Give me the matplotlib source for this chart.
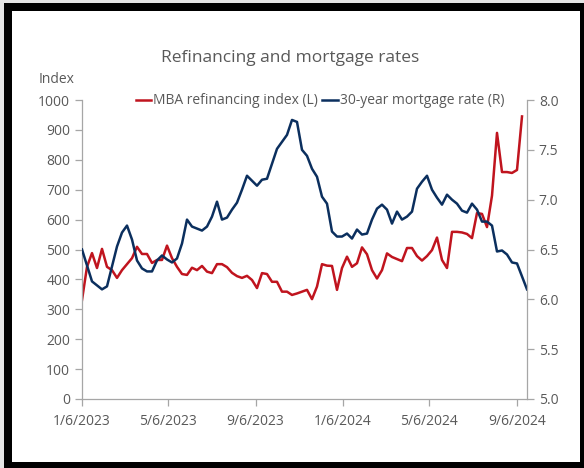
import pandas as pd
import matplotlib
matplotlib.use("Agg")
import matplotlib.pyplot as plt
from matplotlib.patches import Rectangle

plt.rcParams['font.family'] = ['Open Sans', 'DejaVu Sans']

# weekly data, starting friday 1/6/2023
start = '2023-01-06'

refi_index = [331, 442, 488, 438, 502, 442, 431, 405, 431, 451,
              471, 509, 485, 485, 455, 465, 465, 513, 471, 442,
              418, 415, 439, 431, 445, 426, 421, 451, 451, 441,
              422, 411, 405, 412, 398, 371, 421, 418, 392, 392,
              359, 359, 348, 353, 359, 365, 334, 376, 451, 446,
              445, 365, 438, 476, 442, 454, 507, 484, 431, 403,
              431, 487, 475, 468, 461, 505, 505, 478, 463, 478,
              498, 540, 465, 438, 559, 559, 557, 552, 538, 622,
              619, 575, 680, 890, 759, 759, 756, 766, 945]

mortgage_rate = [6.50, 6.34, 6.18, 6.14, 6.10, 6.13, 6.33, 6.53, 6.67, 6.74,
                 6.60, 6.39, 6.31, 6.28, 6.28, 6.39, 6.44, 6.40, 6.37, 6.41,
                 6.56, 6.80, 6.73, 6.71, 6.69, 6.73, 6.83, 6.98, 6.80, 6.82,
                 6.90, 6.97, 7.10, 7.24, 7.19, 7.14, 7.20, 7.21, 7.36, 7.51,
                 7.58, 7.65, 7.80, 7.78, 7.50, 7.44, 7.31, 7.23, 7.03, 6.96,
                 6.68, 6.63, 6.63, 6.66, 6.61, 6.70, 6.65, 6.66, 6.80, 6.91,
                 6.95, 6.90, 6.76, 6.88, 6.80, 6.83, 6.88, 7.11, 7.18, 7.24,
                 7.10, 7.02, 6.95, 7.05, 7.00, 6.96, 6.89, 6.87, 6.96, 6.90,
                 6.78, 6.78, 6.74, 6.48, 6.49, 6.45, 6.37, 6.36, 6.23, 6.10]

refi_dates = pd.date_range(start, periods=len(refi_index), freq='7D')
rate_dates = pd.date_range(start, periods=len(mortgage_rate), freq='7D')

tick_dates = pd.to_datetime(['2023-01-06', '2023-05-06', '2023-09-06',
                             '2024-01-06', '2024-05-06', '2024-09-06'])
tick_labels = ['1/6/2023', '5/6/2023', '9/6/2023', '1/6/2024', '5/6/2024', '9/6/2024']

red = '#C0141E'
navy = '#0B2F5E'
gray = '#595959'
spine_gray = '#A6A6A6'

W, H = 584, 468
fig = plt.figure(figsize=(W / 100, H / 100), dpi=100)
fig.patch.set_facecolor('#E4E4E4')

# black frame round the chart
fig.add_artist(Rectangle((4 / W, 0), 580 / W, 465 / H, transform=fig.transFigure,
                         facecolor='black', edgecolor='none', zorder=-2))
fig.add_artist(Rectangle((12 / W, 6 / H), 568 / W, 451 / H, transform=fig.transFigure,
                         facecolor='white', edgecolor='none', zorder=-1))

ax = fig.add_axes([82 / W, 1 - 399 / H, 445 / W, 299 / H])
ax.set_facecolor('none')
ax2 = ax.twinx()

l1, = ax.plot(refi_dates, refi_index, color=red, lw=1.8, label='MBA refinancing index (L)')
l2, = ax2.plot(rate_dates, mortgage_rate, color=navy, lw=1.8, label='30-year mortgage rate (R)')

ax.set_ylim(0, 1000)
ax.set_yticks(range(0, 1001, 100))
ax2.set_ylim(5.0, 8.0)
ax2.set_yticks([5.0, 5.5, 6.0, 6.5, 7.0, 7.5, 8.0])
ax2.set_yticklabels(['%.1f' % v for v in [5.0, 5.5, 6.0, 6.5, 7.0, 7.5, 8.0]])

ax.set_xlim(rate_dates[0], rate_dates[-1])
ax.set_xticks(tick_dates)
ax.set_xticklabels(tick_labels)

for a in (ax, ax2):
    a.spines['top'].set_visible(False)
    for s in ('left', 'right', 'bottom'):
        a.spines[s].set_color(spine_gray)
        a.spines[s].set_linewidth(0.9)
    a.tick_params(colors=spine_gray, labelcolor=gray, labelsize=10, length=5, width=0.9)
ax.spines['right'].set_visible(False)
ax2.spines['left'].set_visible(False)
ax2.spines['bottom'].set_visible(False)
ax.tick_params(axis='x', pad=6)

fig.text(290 / W, 1 - 58 / H, 'Refinancing and mortgage rates', ha='center', va='center',
         fontsize=12.5, color=gray)
fig.text(57 / W, 1 - 79 / H, 'Index', ha='center', va='center', fontsize=10, color=gray)

fig.legend(handles=[l1, l2], loc='center', bbox_to_anchor=(320 / W, 1 - 101 / H),
           ncol=2, frameon=False, fontsize=10, handlelength=1.1, handletextpad=0.15,
           columnspacing=0.3, labelcolor=gray, borderaxespad=0)

fig.savefig('out.png', dpi=100)
